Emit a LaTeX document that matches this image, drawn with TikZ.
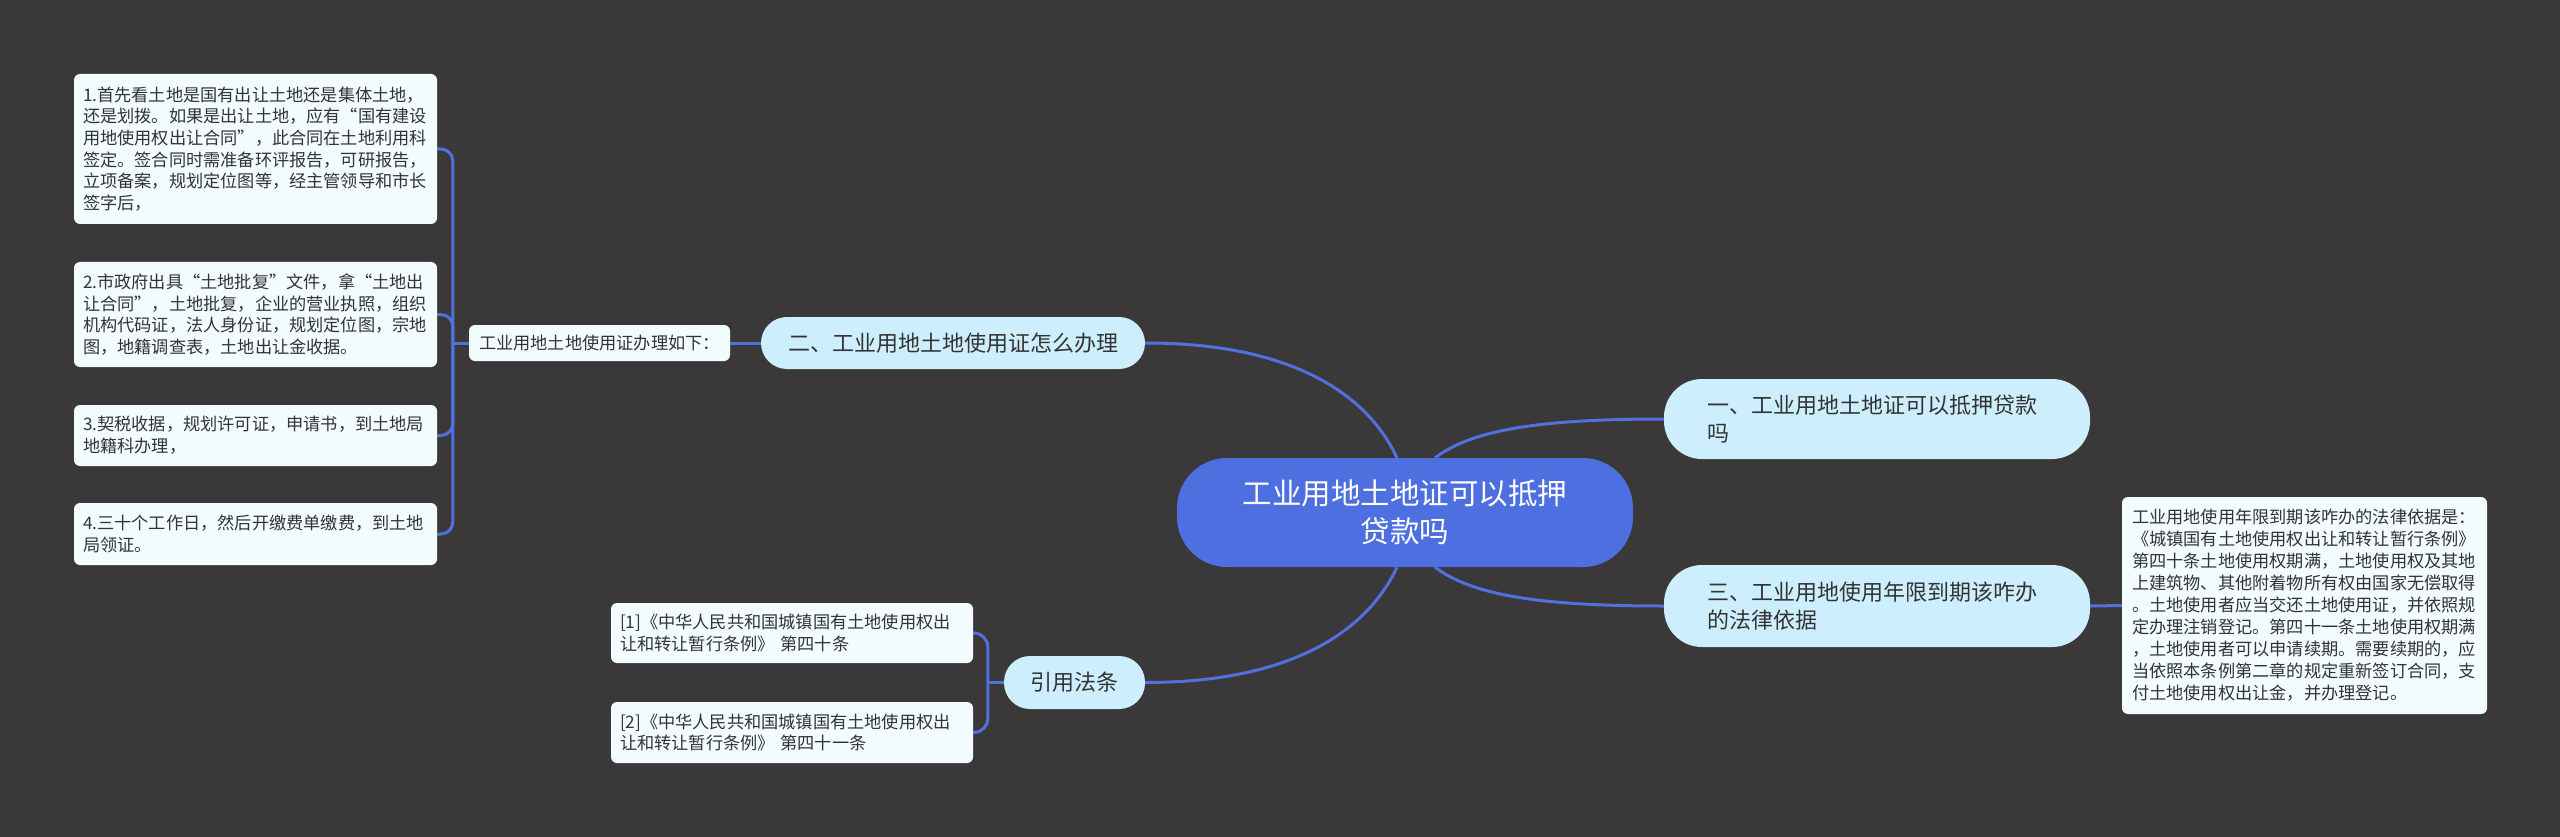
\documentclass[tikz,border=0pt]{standalone}
\usepackage{fontspec}
\newfontfamily\cjk{Noto Sans CJK SC}
\usetikzlibrary{calc}
\definecolor{bg}{HTML}{3A3838}
\definecolor{linec}{HTML}{5270DE}
\definecolor{rootfill}{HTML}{4E6FE0}
\definecolor{lonefill}{HTML}{CDEFFD}
\definecolor{leaffill}{HTML}{F2FCFE}
\definecolor{txt}{HTML}{333333}
\pgfdeclarelayer{backl}
\pgfdeclarelayer{connl}
\pgfsetlayers{backl,connl,main}
\begin{document}
\begin{tikzpicture}[x=1pt,y=-1pt,
 leaf/.style={fill=leaffill, rounded corners=6pt, text=txt, font=\cjk\fontsize{17.2pt}{21.7pt}\selectfont, align=left, inner xsep=9pt, inner ysep=0pt},
 lone/.style={fill=lonefill, text=txt, font=\cjk\fontsize{22pt}{28pt}\selectfont, inner ysep=0pt},
 conn/.style={draw=linec, line width=3pt},
]
\begin{pgfonlayer}{backl}
\fill[bg] (0,0) rectangle (2560,837);
\end{pgfonlayer}
\useasboundingbox (0,0) rectangle (2560,837);

\node[fill=rootfill, text=white, rounded corners=50pt, font=\cjk\fontsize{29.5pt}{38pt}\selectfont, align=center, minimum width=456pt, minimum height=109pt, inner sep=0pt] (root) at (1405,512.5) {工业用地土地证可以抵押\\贷款吗};

\node[lone, rounded corners=38pt, minimum height=80pt, text width=340pt, inner xsep=43pt, align=left] (n1) at (1877,419) {一、工业用地土地证可以抵押贷款\\吗};
\node[lone, rounded corners=38pt, minimum height=82pt, text width=340pt, inner xsep=43pt, align=left] (n3) at (1877,606) {三、工业用地使用年限到期该咋办\\的法律依据};
\node[lone, rounded corners=26pt, minimum width=384pt, minimum height=52pt, inner xsep=0pt] (n2) at (953,343) {二、工业用地土地使用证怎么办理};
\node[lone, rounded corners=26pt, minimum width=141pt, minimum height=53pt, inner xsep=0pt] (yy) at (1074.5,682.5) {引用法条};

\node[leaf, minimum width=261pt, minimum height=36pt, inner xsep=0pt, align=center] (sub) at (599.5,343) {工业用地土地使用证办理如下：};

\node[leaf, text width=345pt, minimum height=150pt] (b1) at (255.5,149) {1.首先看土地是国有出让土地还是集体土地，\\还是划拨。如果是出让土地，应有“国有建设\\用地使用权出让合同”，此合同在土地利用科\\签定。签合同时需准备环评报告，可研报告，\\立项备案，规划定位图等，经主管领导和市长\\签字后，};
\node[leaf, text width=345pt, minimum height=105pt] (b2) at (255.5,314.5) {2.市政府出具“土地批复”文件，拿“土地出\\让合同”，土地批复，企业的营业执照，组织\\机构代码证，法人身份证，规划定位图，宗地\\图，地籍调查表，土地出让金收据。};
\node[leaf, text width=345pt, minimum height=61pt] (b3) at (255.5,435.5) {3.契税收据，规划许可证，申请书，到土地局\\地籍科办理，};
\node[leaf, text width=345pt, minimum height=62pt] (b4) at (255.5,534) {4.三十个工作日，然后开缴费单缴费，到土地\\局领证。};

\node[leaf, text width=344pt, minimum height=60pt] (r1) at (792,633) {[1]《中华人民共和国城镇国有土地使用权出\\让和转让暂行条例》 第四十条};
\node[leaf, text width=344pt, minimum height=61pt] (r2) at (792,732.5) {[2]《中华人民共和国城镇国有土地使用权出\\让和转让暂行条例》 第四十一条};

\node[leaf, text width=345pt, inner xsep=10pt, minimum height=217pt, font=\cjk\fontsize{17.2pt}{22pt}\selectfont] (rb) at (2304.5,605.5) {工业用地使用年限到期该咋办的法律依据是：\\《城镇国有土地使用权出让和转让暂行条例》\\第四十条土地使用权期满，土地使用权及其地\\上建筑物、其他附着物所有权由国家无偿取得\\。土地使用者应当交还土地使用证，并依照规\\定办理注销登记。第四十一条土地使用权期满\\，土地使用者可以申请续期。需要续期的，应\\当依照本条例第二章的规定重新签订合同，支\\付土地使用权出让金，并办理登记。};

\begin{pgfonlayer}{connl}
\draw[conn] ($(root.north)+(-8,0)$) .. controls +(-27,-58) and +(155,0) .. (n2.east);
\draw[conn] ($(root.south)+(-8,0)$) .. controls +(-27,58) and +(155,0) .. (yy.east);
\draw[conn] ($(root.north)+(30,0)$) .. controls +(35,-26) and +(-134,0) .. (n1.west);
\draw[conn] ($(root.south)+(30,0)$) .. controls +(35,26) and +(-134,0) .. (n3.west);
\draw[conn] (sub.east) -- (n2.west);
\draw[conn] (n3.east) -- (rb.west);
\coordinate (lj) at ($(sub.west)+(-16,0)$);
\draw[conn] (sub.west) -- (lj);
\foreach \b in {b1,b2,b3,b4} \draw[conn, rounded corners=12pt] (lj) |- (\b.east);
\coordinate (rj) at ($(yy.west)+(-16,0)$);
\draw[conn] (yy.west) -- (rj);
\draw[conn, rounded corners=14pt] (rj) |- (r1.east);
\draw[conn, rounded corners=14pt] (rj) |- (r2.east);
\end{pgfonlayer}
\end{tikzpicture}
\end{document}
